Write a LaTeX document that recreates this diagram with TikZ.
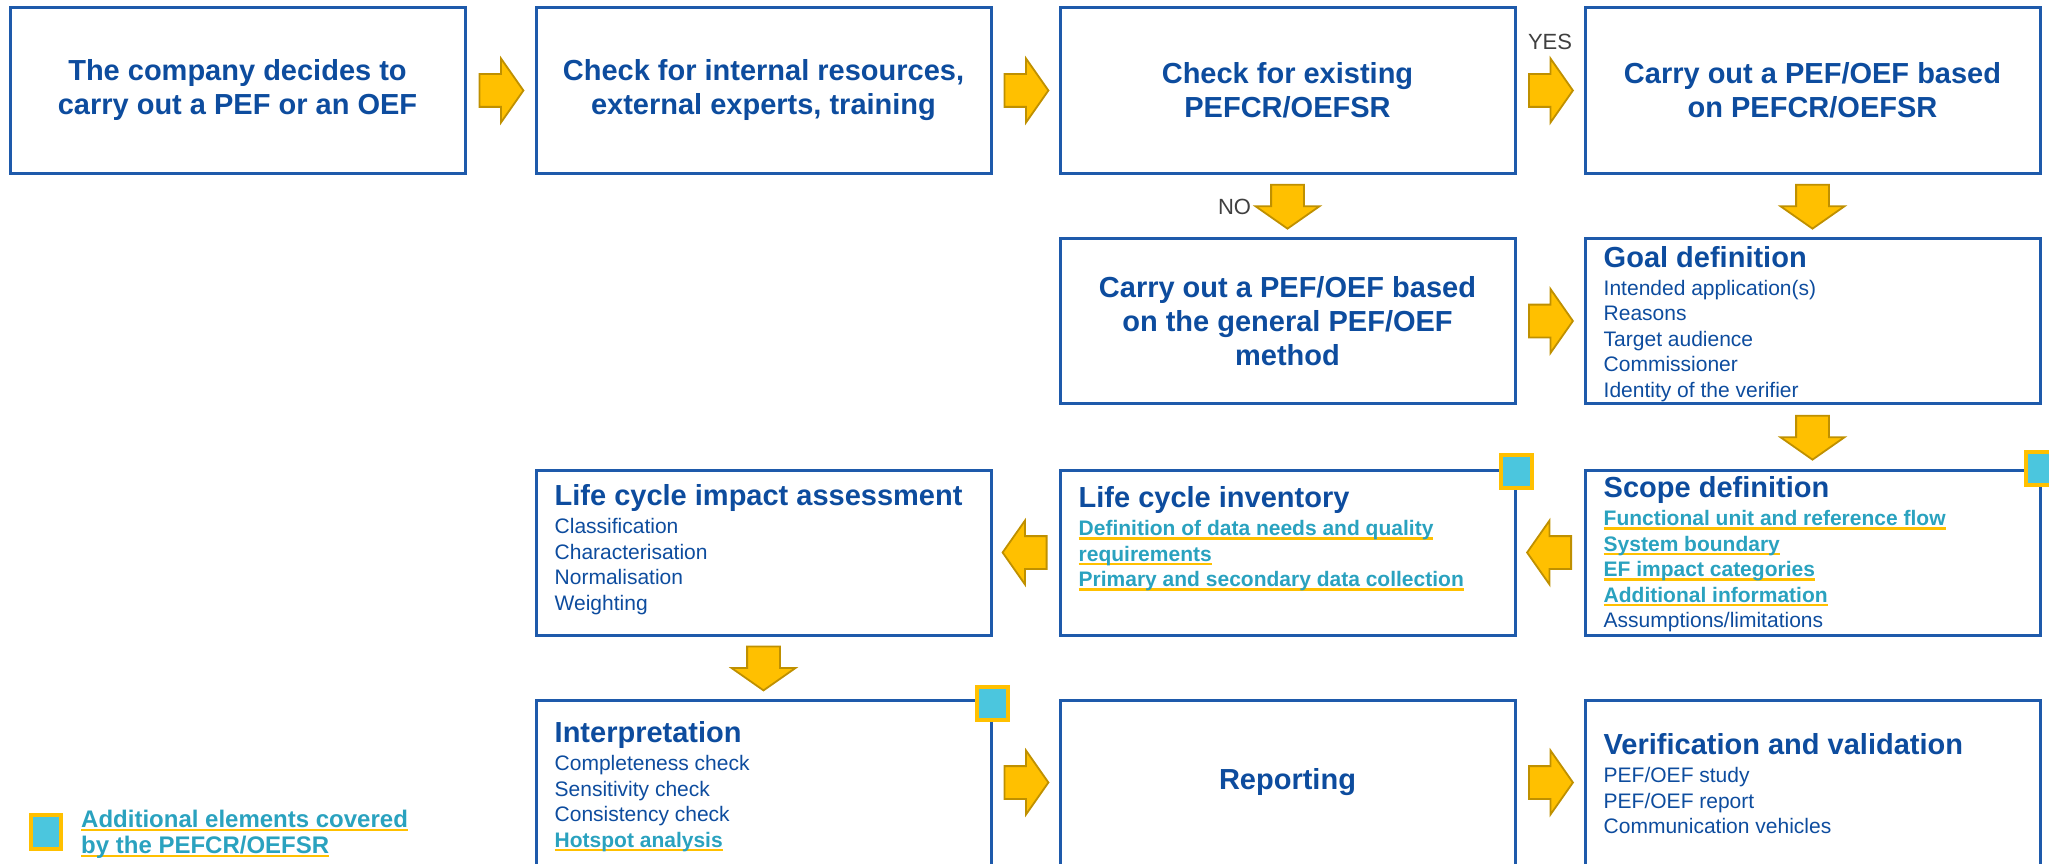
\documentclass[tikz,border=0pt]{standalone}
\usepackage{fontspec}
\setmainfont{Liberation Sans}
\usetikzlibrary{shapes.arrows,calc}

\definecolor{pefblue}{HTML}{0D4C9E}
\definecolor{boxblue}{HTML}{1E5AAB}
\definecolor{arrowfill}{HTML}{FFC000}
\definecolor{arrowedge}{HTML}{BF9000}
\definecolor{lineyellow}{HTML}{FFC000}
\definecolor{addteal}{HTML}{2AA2BF}
\definecolor{sqcyan}{HTML}{4BC6DE}
\definecolor{decgray}{HTML}{404040}

\newsavebox{\addbox}
\newcommand{\addel}[1]{\sbox{\addbox}{\bfseries\color{addteal}#1}%
  \rlap{\color{lineyellow}\rule[-4pt]{\wd\addbox}{2.5pt}}\usebox{\addbox}}
\newcommand{\headline}[1]{{\fontsize{29}{34}\selectfont\bfseries #1}}

\tikzset{
  stage/.style={draw=boxblue, line width=3pt, minimum width=455pt, minimum height=165pt,
    inner sep=0pt, text=pefblue, font=\fontsize{29}{34}\selectfont\bfseries, align=center},
  stagetext/.style={anchor=north west, inner sep=0pt, text=pefblue, align=left,
    font=\fontsize{21}{25.5}\selectfont},
  blockarrow/.style={single arrow, draw=arrowedge, fill=arrowfill, line width=1.8pt,
    minimum height=44pt, single arrow head extend=15.5pt, single arrow tip angle=110,
    anchor=tail},
  harrow/.style={blockarrow, inner xsep=0pt, inner ysep=15.5pt},
  larrow/.style={harrow, shape border rotate=180},
  varrow/.style={blockarrow, shape border rotate=270, inner xsep=15.5pt, inner ysep=0pt},
  marker/.style={draw=lineyellow, fill=sqcyan, line width=4pt, minimum width=31pt,
    minimum height=33pt, inner sep=0pt},
  decision/.style={text=decgray, font=\fontsize{22}{26}\selectfont, inner sep=0pt}
}

\begin{document}
\begin{tikzpicture}[x=1pt,y=-1pt]
  \useasboundingbox (0,0) rectangle (2049,864);
  % first row
  \node[stage] (decide) at (237.5,90.5) {The company decides to\\carry out a PEF or an OEF};
  \node[stage] (resources) at (763.5,90.5) {Check for internal resources,\\external experts, training};
  \node[stage] (existing) at (1287.5,90.5) {Check for existing\\PEFCR/OEFSR};
  \node[stage] (withrules) at (1812.5,90.5) {Carry out a PEF/OEF based\\on PEFCR/OEFSR};
  % second row
  \node[stage] (general) at (1287.5,321) {Carry out a PEF/OEF based\\on the general PEF/OEF\\method};
  \node[stage] (goal) at (1812.5,321) {};
  % third row
  \node[stage] (lcia) at (763.5,552.5) {};
  \node[stage] (lci) at (1287.5,552.5) {};
  \node[stage] (scope) at (1812.5,552.5) {};
  % fourth row
  \node[stage] (interp) at (763.5,782.5) {};
  \node[stage] (report) at (1287.5,782.5) {Reporting};
  \node[stage] (verif) at (1812.5,782.5) {};

  % texts of the phases
  \node[stagetext] (goaltext) at ([xshift=20pt,yshift=-9pt]goal.north west)
    {\headline{Goal definition}\\[2.5pt]Intended application(s)\\Reasons\\Target audience\\Commissioner\\Identity of the verifier};
  \node[stagetext] (scopetext) at ([xshift=20pt,yshift=-8pt]scope.north west)
    {\headline{Scope definition}\\[2.5pt]\addel{Functional unit and reference flow}\\\addel{System boundary}\\\addel{EF impact categories}\\\addel{Additional information}\\Assumptions/limitations};
  \node[stagetext] (lcitext) at ([xshift=20pt,yshift=-18pt]lci.north west)
    {\headline{Life cycle inventory}\\[2.5pt]\addel{Definition of data needs and quality}\\\addel{requirements}\\\addel{Primary and secondary data collection}};
  \node[stagetext] (lciatext) at ([xshift=20pt,yshift=-16pt]lcia.north west)
    {\headline{Life cycle impact assessment}\\[2.5pt]Classification\\Characterisation\\Normalisation\\Weighting};
  \node[stagetext] (interptext) at ([xshift=20pt,yshift=-23pt]interp.north west)
    {\headline{Interpretation}\\[2.5pt]Completeness check\\Sensitivity check\\Consistency check\\\addel{Hotspot analysis}};
  \node[stagetext] (veriftext) at ([xshift=20pt,yshift=-35pt]verif.north west)
    {\headline{Verification and validation}\\[2.5pt]PEF/OEF study\\PEF/OEF report\\Communication vehicles};

  % block arrows, tail 22pt before the middle of the gap
  \node[harrow] (a1) at ($(decide.east)!0.5!(resources.west)!22pt!(decide.east)$) {};
  \node[harrow] (a2) at ($(resources.east)!0.5!(existing.west)!22pt!(resources.east)$) {};
  \node[harrow] (yesarrow) at ($(existing.east)!0.5!(withrules.west)!22pt!(existing.east)$) {};
  \node[varrow] (noarrow) at ($(existing.south)!0.5!(general.north)!22pt!(existing.south)$) {};
  \node[varrow] (a5) at ($(withrules.south)!0.5!(goal.north)!22pt!(withrules.south)$) {};
  \node[harrow] (a6) at ($(general.east)!0.5!(goal.west)!22pt!(general.east)$) {};
  \node[varrow] (a7) at ($(goal.south)!0.5!(scope.north)!22pt!(goal.south)$) {};
  \node[larrow] (a8) at ($(scope.west)!0.5!(lci.east)!22pt!(scope.west)$) {};
  \node[larrow] (a9) at ($(lci.west)!0.5!(lcia.east)!22pt!(lci.west)$) {};
  \node[varrow] (a10) at ($(lcia.south)!0.5!(interp.north)!22pt!(lcia.south)$) {};
  \node[harrow] (a11) at ($(interp.east)!0.5!(report.west)!22pt!(interp.east)$) {};
  \node[harrow] (a12) at ($(report.east)!0.5!(verif.west)!22pt!(report.east)$) {};
  \node[decision] (yes) at ($(yesarrow.tail)!0.5!(yesarrow.tip)+(-1,-49)$) {YES};
  \node[decision] (no) at ($(noarrow.tail)!0.5!(noarrow.tip)+(-53,0)$) {NO};

  % markers for the additional elements
  \node[marker] (lcimark) at ([yshift=-3pt]lci.north east) {};
  \node[marker] (scopemark) at (scope.north east) {};
  \node[marker] (interpmark) at ([yshift=-5pt]interp.north east) {};

  % legend
  \node[marker, minimum width=30pt, minimum height=34pt] (legendmark) at (46,832) {};
  \node[stagetext, font=\fontsize{24}{26}\selectfont] (legendtext) at (81,809.5)
    {\addel{Additional elements covered}\\\addel{by the PEFCR/OEFSR}};
\end{tikzpicture}
\end{document}
